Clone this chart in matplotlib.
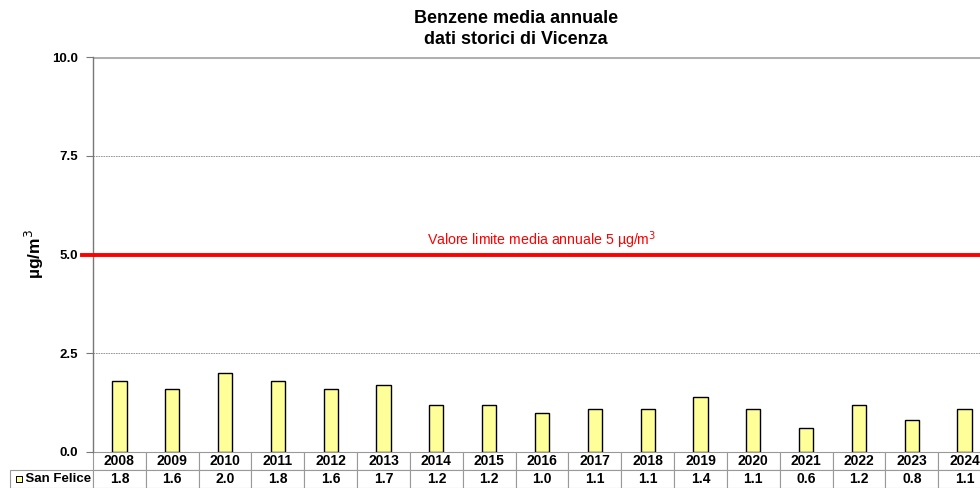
import numpy as np
import matplotlib.pyplot as plt

plt.rcParams['font.family'] = ['Liberation Sans', 'DejaVu Sans']

# Medie annuali benzene - stazione San Felice (Vicenza)
anni = ['2008', '2009', '2010', '2011', '2012', '2013', '2014', '2015', '2016',
        '2017', '2018', '2019', '2020', '2021', '2022', '2023', '2024']
san_felice = [1.8, 1.6, 2.0, 1.8, 1.6, 1.7, 1.2, 1.2, 1.0,
              1.1, 1.1, 1.4, 1.1, 0.6, 1.2, 0.8, 1.1]
stazione = 'San Felice'
valore_limite = 5.0
yticks = [0.0, 2.5, 5.0, 7.5, 10.0]

fig = plt.figure(figsize=(9.8, 4.88), dpi=100)
# l'area del grafico prosegue oltre il bordo destro dell'immagine
ax = fig.add_axes([93 / 980, 36 / 488, 898 / 980, 395 / 488])

x = np.arange(len(anni))
ax.bar(x, san_felice, width=0.27, color='#ffff99', edgecolor='black', linewidth=1.0, zorder=3)

ax.set_xlim(-0.5, len(anni) - 0.5)
ax.set_ylim(0, 10)
ax.set_yticks(yticks)
ax.set_yticklabels([f'{v:.1f}' for v in yticks], fontsize=9.5, fontweight='bold')
ax.tick_params(axis='y', length=5, width=0.8, color='#777777', pad=6)
ax.set_xticks([])

for y in [2.5, 7.5]:
    ax.axhline(y, color='#888888', linestyle=(0, (2, 1)), linewidth=0.6, zorder=1)
ax.axhline(10, color='#b0b0b0', linewidth=2.2, zorder=1)

# linea del valore limite
ax.axhline(valore_limite, color='#ff0000', linewidth=2.8, zorder=4)
ax.plot([-0.5 - 0.2, -0.5], [valore_limite, valore_limite], color='#ff0000',
        linewidth=2.8, clip_on=False, zorder=4)
ax.text(8.0, valore_limite + 0.1, 'Valore limite media annuale 5 µg/m$^3$',
        color='#ff0000', fontsize=10.2, ha='center', va='bottom')

for side in ['top', 'right', 'bottom']:
    ax.spines[side].set_visible(False)
ax.spines['left'].set_color('#777777')
ax.spines['left'].set_linewidth(1.0)

ax.set_ylabel('µg/m$^3$', fontsize=12.5, fontweight='bold', labelpad=4)

fig.text(516 / 980, 1 - 29 / 488, 'Benzene media annuale\ndati storici di Vicenza',
         ha='center', va='center', fontsize=13, fontweight='bold', linespacing=1.3)

# tabella dati sotto l'asse: prima colonna con il nome della stazione
n = len(anni)
w_label = 83 / 898
righe = [['    ' + stazione] + [f'{v:.1f}' for v in san_felice]]
tab = ax.table(cellText=righe, colLabels=[''] + anni, cellLoc='center',
               colWidths=[w_label] + [1 / n] * n,
               bbox=[-w_label, -36 / 395, 1 + w_label, 36 / 395])
tab.auto_set_font_size(False)
for (r, c), cell in tab.get_celld().items():
    cell.set_edgecolor('#999999')
    cell.set_linewidth(0.8)
    cell.set_facecolor('white')
    cell.get_text().set_fontsize(10)
    cell.get_text().set_fontweight('bold')
    if r == 0 and c == 0:
        cell.visible_edges = ''
        cell.set_facecolor('none')
    if c == 0 and r == 1:
        cell.get_text().set_fontsize(9.5)

# quadratino della legenda nella cella dell'etichetta
ax.scatter([-w_label + 0.0095], [-27 / 395], s=24, marker='s', color='#ffff99',
           edgecolor='black', linewidth=0.7, transform=ax.transAxes, clip_on=False, zorder=5)

fig.savefig('out.png', dpi=100)
